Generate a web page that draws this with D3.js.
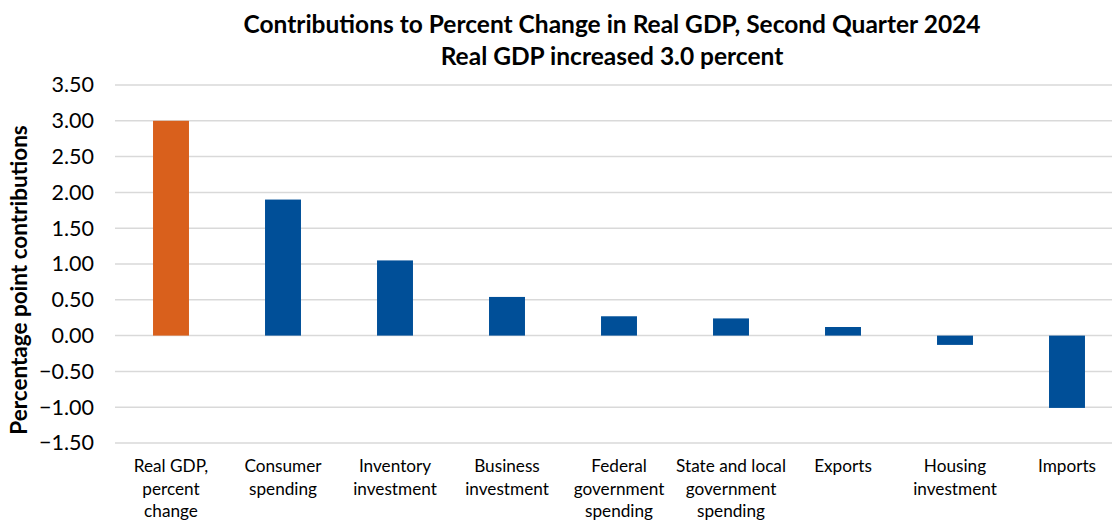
<!DOCTYPE html>
<html><head><meta charset="utf-8">
<script src="https://cdn.jsdelivr.net/npm/d3@7"></script>
<style>
body{margin:0;background:#fff;}
svg{display:block;font-family:Lato,"Open Sans",sans-serif;}
</style></head>
<body><svg id="chart" width="1112" height="522"></svg>
<script>
const categories = [
  ["Real GDP,", "percent", "change"],
  ["Consumer", "spending"],
  ["Inventory", "investment"],
  ["Business", "investment"],
  ["Federal", "government", "spending"],
  ["State and local", "government", "spending"],
  ["Exports"],
  ["Housing", "investment"],
  ["Imports"]
];
const values = [3.00, 1.90, 1.05, 0.54, 0.27, 0.24, 0.12, -0.13, -1.01];
const barColors = ["#d9601c", "#004f98", "#004f98", "#004f98", "#004f98", "#004f98", "#004f98", "#004f98", "#004f98"];
const yTicks = [-1.5, -1.0, -0.5, 0, 0.5, 1.0, 1.5, 2.0, 2.5, 3.0, 3.5];
const titleLines = ["Contributions to Percent Change in Real GDP, Second Quarter 2024", "Real GDP increased 3.0 percent"];
const yLabel = "Percentage point contributions";

(function () {
const svg = d3.select("#chart");
const W = 1112, H = 522;
const mLeft = 115, mRight = 1123, mTop = 85, mBottom = 443;

const x = d3.scaleBand().domain(d3.range(categories.length)).range([mLeft, mRight]).paddingInner(0.679).paddingOuter(0.3395);
const y = d3.scaleLinear().domain([-1.5, 3.5]).range([mBottom, mTop]);

// gridlines
svg.append("g").selectAll("line").data(yTicks).join("line")
  .attr("x1", mLeft).attr("x2", W)
  .attr("y1", d => y(d)).attr("y2", d => y(d))
  .attr("stroke", "#d9d9d9").attr("stroke-width", 1.5);

// y axis labels
const yAxis = d3.axisLeft(y).tickValues(yTicks).tickFormat(d3.format(".2f")).tickSize(0).tickPadding(21);
const gy = svg.append("g").attr("transform", `translate(${mLeft},0)`).call(yAxis);
gy.select(".domain").remove();
gy.selectAll("text").attr("font-size", 21.5).attr("fill", "#000").attr("font-family", "Lato, sans-serif");

// bars
svg.append("g").selectAll("rect").data(values).join("rect")
  .attr("x", (d, i) => x(i))
  .attr("width", x.bandwidth())
  .attr("y", d => y(Math.max(0, d)))
  .attr("height", d => Math.abs(y(d) - y(0)))
  .attr("fill", (d, i) => barColors[i]);

// x labels
const gx = svg.append("g");
categories.forEach((lines, i) => {
  const cx = x(i) + x.bandwidth() / 2;
  const t = gx.append("text")
    .attr("x", cx)
    .attr("y", 472)
    .attr("text-anchor", "middle")
    .attr("font-size", 17.2)
    .attr("fill", "#000");
  lines.forEach((l, j) => {
    t.append("tspan").attr("x", cx).attr("dy", j === 0 ? 0 : 22.5).text(l);
  });
});

// title
svg.append("g").selectAll("text").data(titleLines).join("text")
  .attr("x", 612).attr("y", (d, i) => 33 + i * 32)
  .attr("text-anchor", "middle")
  .attr("font-size", 24.5).attr("font-weight", "bold").attr("fill", "#000")
  .text(d => d);

// y label
svg.append("text")
  .attr("transform", `translate(27,280) rotate(-90)`)
  .attr("text-anchor", "middle")
  .attr("font-size", 22.5).attr("font-weight", "bold").attr("fill", "#000")
  .text(yLabel);
})();
</script></body></html>
